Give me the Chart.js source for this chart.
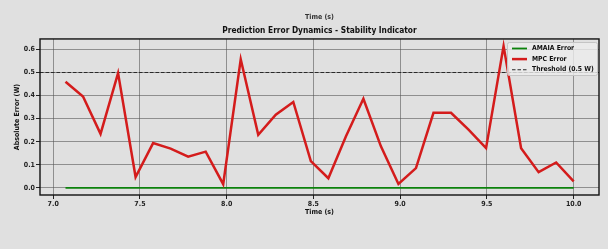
<!DOCTYPE html>
<html>
<head>
<meta charset="utf-8">
<script src="https://cdn.jsdelivr.net/npm/chart.js@4"></script>
<style>
  html, body { margin: 0; padding: 0; background: #e0e0e0; }
  #wrap { width: 608px; height: 249px; position: relative; }
</style>
</head>
<body>
<div id="wrap"><canvas id="c" width="608" height="249"></canvas></div>
<script>
// ---- data ----
const timeValues = [7.071, 7.172, 7.273, 7.374, 7.475, 7.576, 7.677, 7.778, 7.879, 7.980,
                    8.081, 8.182, 8.283, 8.384, 8.485, 8.586, 8.687, 8.788, 8.889, 8.990,
                    9.091, 9.192, 9.293, 9.394, 9.495, 9.596, 9.697, 9.798, 9.899, 10.000];
const mpcError = [0.460, 0.396, 0.234, 0.497, 0.047, 0.194, 0.170, 0.135, 0.157, 0.016,
                  0.557, 0.230, 0.317, 0.372, 0.116, 0.042, 0.223, 0.386, 0.180, 0.017,
                  0.086, 0.325, 0.325, 0.252, 0.172, 0.614, 0.172, 0.068, 0.110, 0.028];
const amaiaError = [0, 0, 0, 0, 0, 0, 0, 0, 0, 0,
                    0, 0, 0, 0, 0, 0, 0, 0, 0, 0,
                    0, 0, 0, 0, 0, 0, 0, 0, 0, 0];
const thresholdValue = 0.5;
const seriesLabels = ['AMAIA Error', 'MPC Error', 'Threshold (0.5 W)'];
const xTicks = [7.0, 7.5, 8.0, 8.5, 9.0, 9.5, 10.0];
const yTicks = [0.0, 0.1, 0.2, 0.3, 0.4, 0.5, 0.6];
const xRange = [6.924, 10.146];
const yRange = [-0.0307, 0.645];

const FONT = "'Liberation Sans Narrow', 'DejaVu Sans Condensed', 'Liberation Sans', sans-serif";

const toPoints = (xs, ys) => xs.map((x, i) => ({ x: x, y: ys[i] }));

const bgPlugin = {
  id: 'bg',
  beforeDraw(chart) {
    const ctx = chart.ctx;
    ctx.save();
    ctx.fillStyle = '#e0e0e0';
    ctx.fillRect(0, 0, chart.width, chart.height);
    ctx.restore();
  }
};

const framePlugin = {
  id: 'frame',
  afterDatasetsDraw(chart) {
    const { ctx, chartArea: a } = chart;
    ctx.save();
    ctx.strokeStyle = '#111';
    ctx.lineWidth = 1.4;
    ctx.strokeRect(a.left, a.top, a.right - a.left, a.bottom - a.top);
    ctx.restore();
  },
  afterDraw(chart) {
    const { ctx, chartArea: a } = chart;
    // remnant of the upper panel's axis title
    ctx.save();
    ctx.fillStyle = '#333';
    ctx.font = "bold 7px " + FONT;
    ctx.textAlign = 'center';
    ctx.textBaseline = 'middle';
    ctx.fillText('Time (s)', (a.left + a.right) / 2, 17);
    ctx.restore();

    // legend box (upper right, inside the axes)
    const ds = chart.data.datasets;
    const bx = 507, by = 42, bw = 90, bh = 33;
    ctx.save();
    ctx.fillStyle = 'rgba(236,236,236,0.8)';
    ctx.strokeStyle = '#c4c4c4';
    ctx.lineWidth = 1;
    ctx.beginPath();
    if (ctx.roundRect) ctx.roundRect(bx + 0.5, by + 0.5, bw, bh, 2); else ctx.rect(bx + 0.5, by + 0.5, bw, bh);
    ctx.fill();
    ctx.stroke();
    ctx.font = "bold 6.8px " + FONT;
    ctx.textBaseline = 'middle';
    ctx.textAlign = 'left';
    ds.forEach((d, i) => {
      const yy = by + 6.5 + i * 10.6;
      ctx.save();
      ctx.strokeStyle = d.borderColor;
      ctx.lineWidth = d.borderWidth;
      ctx.setLineDash(d.borderDash || []);
      ctx.beginPath();
      ctx.moveTo(bx + 5, yy);
      ctx.lineTo(bx + 20, yy);
      ctx.stroke();
      ctx.restore();
      ctx.fillStyle = '#111';
      ctx.fillText(d.label, bx + 25, yy);
    });
    ctx.restore();
  }
};

new Chart(document.getElementById('c'), {
  type: 'line',
  data: {
    datasets: [
      {
        label: seriesLabels[0],
        data: toPoints(timeValues, amaiaError),
        borderColor: '#0c820c',
        borderWidth: 1.8,
        pointRadius: 0,
        tension: 0,
        order: 2
      },
      {
        label: seriesLabels[1],
        data: toPoints(timeValues, mpcError),
        borderColor: '#d41c1c',
        borderWidth: 2.5,
        pointRadius: 0,
        tension: 0,
        order: 1
      },
      {
        label: seriesLabels[2],
        data: [{ x: xRange[0], y: thresholdValue }, { x: xRange[1], y: thresholdValue }],
        borderColor: '#2a2a2a',
        borderWidth: 1.1,
        borderDash: [3.5, 2],
        pointRadius: 0,
        tension: 0,
        order: 3
      }
    ]
  },
  options: {
    responsive: false,
    animation: false,
    devicePixelRatio: 1,
    layout: { padding: { left: 0, right: 9, top: 0, bottom: 0 } },
    plugins: {
      legend: { display: false },
      tooltip: { enabled: false },
      title: {
        display: true,
        text: 'Prediction Error Dynamics - Stability Indicator',
        fullSize: false,
        color: '#111',
        font: { family: FONT, size: 8.3, weight: 'bold' },
        padding: { top: 26, bottom: 3 }
      }
    },
    scales: {
      x: {
        type: 'linear',
        min: xRange[0],
        max: xRange[1],
        afterFit(scale) { scale.height = 54; },
        afterBuildTicks(scale) { scale.ticks = xTicks.map(v => ({ value: v })); },
        ticks: {
          color: '#222',
          font: { family: FONT, size: 7, weight: 'bold' },
          padding: 1,
          maxRotation: 0,
          autoSkip: false,
          callback: v => Number(v).toFixed(1)
        },
        grid: { color: 'rgba(85,85,85,0.58)', lineWidth: 1, tickLength: 4, tickColor: '#222' },
        border: { display: false },
        title: {
          display: true,
          text: 'Time (s)',
          color: '#111',
          font: { family: FONT, size: 7, weight: 'bold' },
          padding: { top: 0, bottom: 33 }
        }
      },
      y: {
        type: 'linear',
        min: yRange[0],
        max: yRange[1],
        afterFit(scale) { scale.width = 40; },
        afterBuildTicks(scale) { scale.ticks = yTicks.map(v => ({ value: v })); },
        ticks: {
          color: '#222',
          font: { family: FONT, size: 7, weight: 'bold' },
          padding: 1,
          autoSkip: false,
          callback: v => Number(v).toFixed(1)
        },
        grid: { color: 'rgba(85,85,85,0.58)', lineWidth: 1, tickLength: 4, tickColor: '#222' },
        border: { display: false },
        title: {
          display: true,
          text: 'Absolute Error (W)',
          color: '#111',
          font: { family: FONT, size: 7, weight: 'bold' },
          padding: { top: 13, bottom: 0 }
        }
      }
    }
  },
  plugins: [bgPlugin, framePlugin]
});
</script>
</body>
</html>
